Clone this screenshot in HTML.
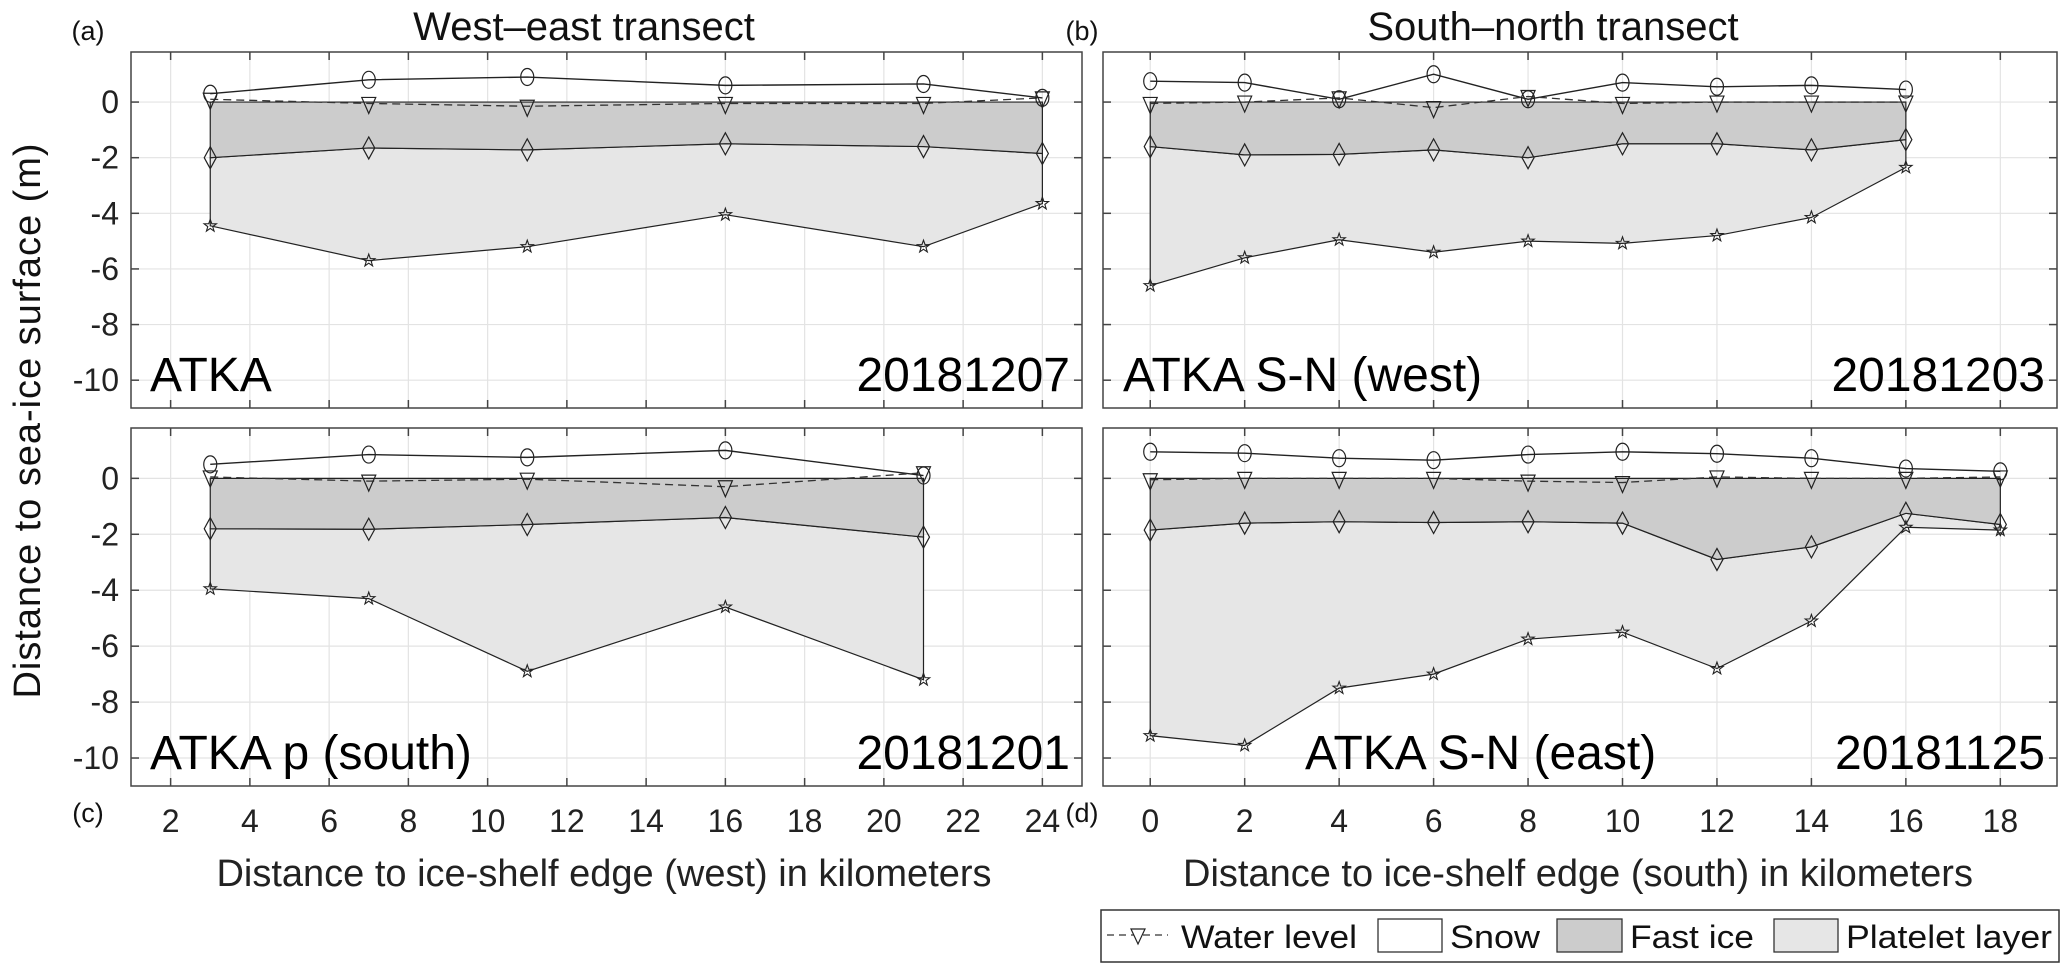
<!DOCTYPE html>
<html><head><meta charset="utf-8"><style>
body{margin:0;background:#fff;}
svg{display:block;font-family:"Liberation Sans",Arial,sans-serif;}
</style></head><body>
<svg id="chart" width="2067" height="972" viewBox="0 0 2067 972"></svg>
<script>
// ----- data -----
const xA = [3,7,11,16,21,24];
const snowA = [0.3,0.8,0.9,0.6,0.65,0.15];
const waterA = [0.1,-0.05,-0.15,-0.05,-0.05,0.15];
const iceA = [-2.0,-1.65,-1.72,-1.5,-1.6,-1.85];
const platA = [-4.45,-5.7,-5.2,-4.05,-5.2,-3.65];

const xB = [0,2,4,6,8,10,12,14,16];
const snowB = [0.75,0.7,0.1,1.0,0.1,0.7,0.55,0.6,0.45];
const waterB = [-0.05,0,0.15,-0.2,0.2,-0.05,0,0,0];
const iceB = [-1.6,-1.9,-1.88,-1.72,-2.0,-1.5,-1.5,-1.72,-1.35];
const platB = [-6.6,-5.6,-4.95,-5.4,-5.0,-5.08,-4.8,-4.15,-2.35];

const xC = [3,7,11,16,21];
const snowC = [0.5,0.85,0.75,1.0,0.1];
const waterC = [0.05,-0.1,-0.03,-0.3,0.2];
const iceC = [-1.8,-1.82,-1.65,-1.4,-2.1];
const platC = [-3.95,-4.3,-6.9,-4.6,-7.2];

const xD = [0,2,4,6,8,10,12,14,16,18];
const snowD = [0.95,0.9,0.72,0.65,0.85,0.95,0.88,0.72,0.35,0.25];
const waterD = [-0.05,0,0,0,-0.1,-0.15,0.05,0,0,0.05];
const iceD = [-1.85,-1.6,-1.55,-1.58,-1.55,-1.6,-2.9,-2.45,-1.25,-1.65];
const platD = [-9.2,-9.55,-7.5,-7.0,-5.75,-5.5,-6.8,-5.1,-1.75,-1.85];

const yTicks = [0,-2,-4,-6,-8,-10];
const xTicksW = [2,4,6,8,10,12,14,16,18,20,22,24];
const xTicksS = [0,2,4,6,8,10,12,14,16,18];

const NS = "http://www.w3.org/2000/svg";
const svg = document.getElementById('chart');
function mk(tag, attrs, parent){
  const e = document.createElementNS(NS, tag);
  for (const k in attrs) e.setAttribute(k, attrs[k]);
  (parent||svg).appendChild(e);
  return e;
}

function panel(cfg){
  const {x0,x1,y0,y1,xmin,xmax,xs,snow,water,ice,plat,xticks,showX,label,date,labelX,name} = cfg;
  const ymin=-11, ymax=1.8;
  const sx = v => x0 + (v-xmin)/(xmax-xmin)*(x1-x0);
  const sy = v => y0 + (ymax-v)/(ymax-ymin)*(y1-y0);
  const g = mk('g',{});
  
  
  xticks.forEach(t=>{
    const l = mk('line',{x1:sx(t),x2:sx(t),y1:y0,y2:y1,stroke:'#e3e3e3','stroke-width':1.2},g);
    
    
  });
  yTicks.forEach(t=>{
    const l = mk('line',{x1:x0,x2:x1,y1:sy(t),y2:sy(t),stroke:'#e3e3e3','stroke-width':1.2},g);
    
    
  });
  let p = xs.map((x,i)=>sx(x)+','+sy(ice[i])).concat(xs.slice().reverse().map((x,j)=>{const i=xs.length-1-j;return sx(x)+','+sy(plat[i]);}));
  const pl = mk('polygon',{points:p.join(' '),fill:'#e6e6e6',stroke:'#222','stroke-width':1.2},g);
  
  
  p = xs.map(x=>sx(x)+','+sy(0)).concat(xs.slice().reverse().map((x,j)=>{const i=xs.length-1-j;return sx(x)+','+sy(ice[i]);}));
  const fi = mk('polygon',{points:p.join(' '),fill:'#cccccc',stroke:'#222','stroke-width':1.2},g);
  
  
  const sn = mk('polyline',{points:xs.map((x,i)=>sx(x)+','+sy(snow[i])).join(' '),fill:'none',stroke:'#222','stroke-width':1.4},g);
  
  
  const wl = mk('polyline',{points:xs.map((x,i)=>sx(x)+','+sy(water[i])).join(' '),fill:'none',stroke:'#333','stroke-width':1.3,'stroke-dasharray':'8,5'},g);
  
  
  xs.forEach((x,i)=>{
    const cx=sx(x);
    let c = mk('ellipse',{cx:cx,cy:sy(snow[i]),rx:6.5,ry:8.5,fill:'none',stroke:'#222','stroke-width':1.2},g);
    
    
    let wy=sy(water[i]);
    let t = mk('polygon',{points:`${cx-7},${wy-6} ${cx+7},${wy-6} ${cx},${wy+10}`,fill:'none',stroke:'#222','stroke-width':1.2},g);
    
    
    let iy=sy(ice[i]);
    let d = mk('polygon',{points:`${cx},${iy-11} ${cx+6},${iy} ${cx},${iy+11} ${cx-6},${iy}`,fill:'none',stroke:'#222','stroke-width':1.2},g);
    
    
    let py=sy(plat[i]), pts=[];
    for(let k=0;k<10;k++){const r=k%2?2.6:6.5;const a=-Math.PI/2+k*Math.PI/5;pts.push((cx+r*Math.cos(a))+','+(py+r*Math.sin(a)));}
    let s = mk('polygon',{points:pts.join(' '),fill:'none',stroke:'#222','stroke-width':1.1},g);
    
    
  });
  const fr = mk('rect',{x:x0,y:y0,width:x1-x0,height:y1-y0,fill:'none',stroke:'#444','stroke-width':1.5},g);
  
  
  xticks.forEach(t=>{
    mk('line',{x1:sx(t),x2:sx(t),y1:y0,y2:y0+8,stroke:'#444','stroke-width':1.5},g);
    mk('line',{x1:sx(t),x2:sx(t),y1:y1,y2:y1-8,stroke:'#444','stroke-width':1.5},g);
    if(showX){
      const tl = mk('text',{x:sx(t),y:y1+46,'font-size':32,'text-anchor':'middle',fill:'#222'},g);
      tl.textContent=t;
      
      
    }
  });
  yTicks.forEach(t=>{
    mk('line',{x1:x0,x2:x0+8,y1:sy(t),y2:sy(t),stroke:'#444','stroke-width':1.5},g);
    mk('line',{x1:x1,x2:x1-8,y1:sy(t),y2:sy(t),stroke:'#444','stroke-width':1.5},g);
    if(cfg.showY){
      const tl = mk('text',{x:x0-12,y:sy(t)+11,'font-size':32,'text-anchor':'end',fill:'#222'},g);
      tl.textContent=t;
      
      
    }
  });
  const lb = mk('text',{x:labelX,y:y1-17,'font-size':48,fill:'#000'},g);
  lb.textContent=label;
  
  
  const dt = mk('text',{x:x1-12,y:y1-17,'font-size':48,'text-anchor':'end',fill:'#000'},g);
  dt.textContent=date;
  
  
}

panel({name:'panel-a',x0:131,x1:1082,y0:52,y1:408,xmin:1,xmax:25,xs:xA,snow:snowA,water:waterA,ice:iceA,plat:platA,xticks:xTicksW,showX:false,showY:true,label:'ATKA',date:'20181207',labelX:150});
panel({name:'panel-b',x0:1103,x1:2057,y0:52,y1:408,xmin:-1,xmax:19.2,xs:xB,snow:snowB,water:waterB,ice:iceB,plat:platB,xticks:xTicksS,showX:false,showY:false,label:'ATKA S-N (west)',date:'20181203',labelX:1123});
panel({name:'panel-c',x0:131,x1:1082,y0:428,y1:786,xmin:1,xmax:25,xs:xC,snow:snowC,water:waterC,ice:iceC,plat:platC,xticks:xTicksW,showX:true,showY:true,label:'ATKA p (south)',date:'20181201',labelX:150});
panel({name:'panel-d',x0:1103,x1:2057,y0:428,y1:786,xmin:-1,xmax:19.2,xs:xD,snow:snowD,water:waterD,ice:iceD,plat:platD,xticks:xTicksS,showX:true,showY:false,label:'ATKA S-N (east)',date:'20181125',labelX:1305});
</script>
<div style="position:absolute;left:0;top:0;width:2067px;height:972px;pointer-events:none">
<svg width="2067" height="972" style="font-family:'Liberation Sans',Arial,sans-serif">
  <text x="584" y="40" font-size="40" text-anchor="middle" fill="#111">West–east transect</text>
  <text x="1553" y="40" font-size="40" text-anchor="middle" fill="#111">South–north transect</text>
  <text x="88" y="40" font-size="27" text-anchor="middle" fill="#111">(a)</text>
  <text x="1082" y="40" font-size="27" text-anchor="middle" fill="#111">(b)</text>
  <text x="88" y="822" font-size="27" text-anchor="middle" fill="#111">(c)</text>
  <text x="1082" y="822" font-size="27" text-anchor="middle" fill="#111">(d)</text>
  <text x="604" y="886" font-size="38" text-anchor="middle" fill="#222">Distance to ice-shelf edge (west) in kilometers</text>
  <text x="1578" y="886" font-size="38" text-anchor="middle" fill="#222">Distance to ice-shelf edge (south) in kilometers</text>
  <text transform="translate(40,421) rotate(-90)" font-size="38" text-anchor="middle" fill="#111" textLength="555" lengthAdjust="spacing">Distance to sea-ice surface (m)</text>
  <g>
    <rect x="1101" y="910" width="958" height="52" fill="#fff" stroke="#333" stroke-width="1.5"/>
    <g>
      <line x1="1107" y1="935" x2="1168" y2="935" stroke="#333" stroke-width="1.3" stroke-dasharray="7,5"/>
      <polygon points="1131,929 1145,929 1138,944" fill="#fff" stroke="#222" stroke-width="1.2"/>
      <text x="1181" y="948" font-size="32" fill="#111" textLength="176" lengthAdjust="spacingAndGlyphs">Water level</text>
    </g>
    <g>
      <rect x="1378" y="919" width="64" height="33" fill="#fff" stroke="#333" stroke-width="1.3"/>
      <text x="1450" y="948" font-size="32" fill="#111" textLength="90" lengthAdjust="spacingAndGlyphs">Snow</text>
    </g>
    <g>
      <rect x="1557" y="919" width="65" height="33" fill="#cccccc" stroke="#333" stroke-width="1.3"/>
      <text x="1630" y="948" font-size="32" fill="#111" textLength="124" lengthAdjust="spacingAndGlyphs">Fast ice</text>
    </g>
    <g>
      <rect x="1774" y="919" width="64" height="33" fill="#e6e6e6" stroke="#333" stroke-width="1.3"/>
      <text x="1846" y="948" font-size="32" fill="#111" textLength="206" lengthAdjust="spacingAndGlyphs">Platelet layer</text>
    </g>
  </g>
</svg>
</div>
</body></html>
